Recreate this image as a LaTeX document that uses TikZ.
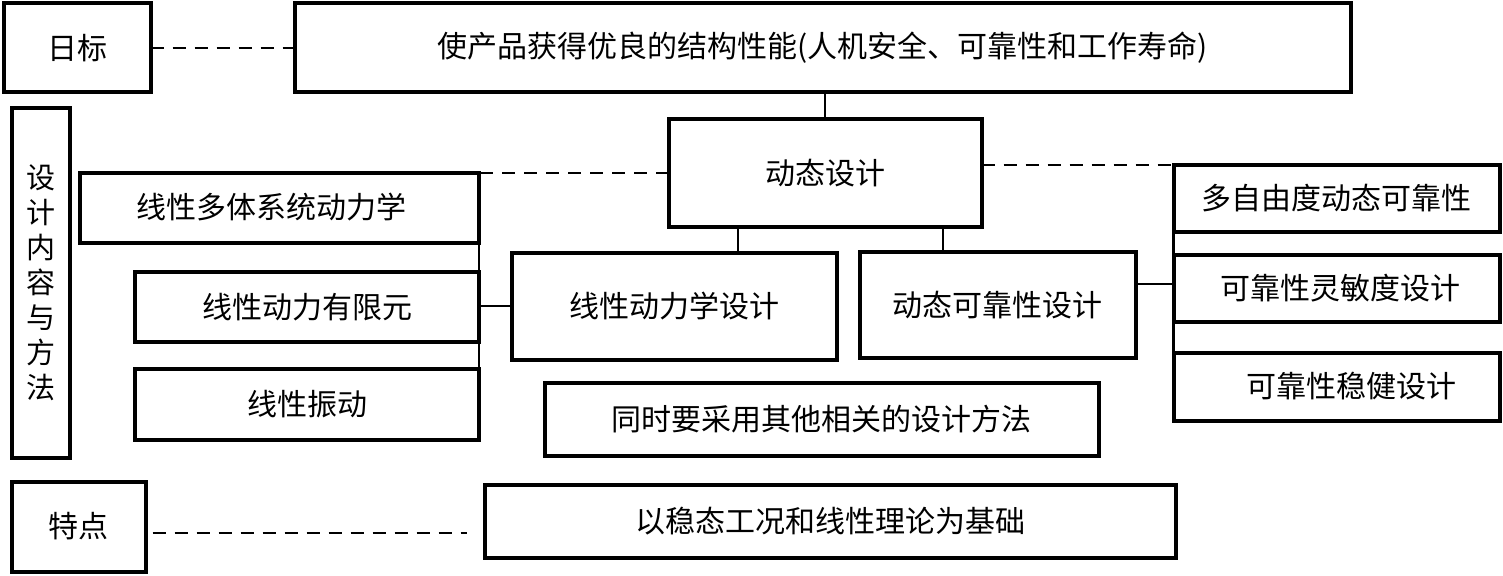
\documentclass[tikz,border=0pt]{standalone}
\usepackage{fontspec}
\newfontfamily\cjk{Noto Sans CJK SC}
\usetikzlibrary{calc}
\begin{document}
\begin{tikzpicture}[x=1pt,y=-1pt,
  bx/.style={draw, line width=4pt, inner sep=0pt, outer sep=0pt, rectangle,
    font=\cjk\fontsize{30}{36}\selectfont},
  conn/.style={line width=2.2pt},
  dconn/.style={line width=2pt, dash pattern=on 13pt off 9pt}]
\useasboundingbox (0,0) rectangle (1503,575);
% top row
\node[bx, minimum width=147pt, minimum height=89pt] (mubiao) at (77,48) {日标};
\node[bx, minimum width=1056pt, minimum height=89pt] (goal) at (822.5,48) {使产品获得优良的结构性能(人机安全、可靠性和工作寿命)};
% left column
\node[bx, minimum width=58pt, minimum height=349pt, align=center,
  font=\cjk\fontsize{29}{35}\selectfont] (neirong) at (40.5,283) {设\\计\\内\\容\\与\\方\\法};
\node[bx, minimum width=134pt, minimum height=90pt] (tedian) at (78.5,526.5) {特点};
% center
\node[bx, minimum width=313pt, minimum height=107pt] (dongtai) at (825,173) {动态设计};
\node[bx, minimum width=399pt, minimum height=70pt] (duoti) at (279.5,207.5) {\hspace*{-16pt}线性多体系统动力学};
\node[bx, minimum width=344pt, minimum height=70pt] (youxian) at (307,307) {线性动力有限元};
\node[bx, minimum width=344pt, minimum height=71pt] (zhendong) at (307,404.5) {线性振动};
\node[bx, minimum width=325pt, minimum height=107pt] (xianxing) at (674,306) {线性动力学设计};
\node[bx, minimum width=276pt, minimum height=106pt] (kekao) at (997.5,305) {动态可靠性设计};
\node[bx, minimum width=554pt, minimum height=73pt] (tongshi) at (821.5,419) {同时要采用其他相关的设计方法};
\node[bx, minimum width=691pt, minimum height=73pt] (jichu) at (830,521) {以稳态工况和线性理论为基础};
% right column
\node[bx, minimum width=326pt, minimum height=67pt] (rb1) at (1336.5,198) {多自由度动态可靠性};
\node[bx, minimum width=326pt, minimum height=67pt] (rb2) at (1336.5,288) {\hspace*{8pt}可靠性灵敏度设计};
\node[bx, minimum width=326pt, minimum height=68pt] (rb3) at (1336.5,386.5) {\hspace*{30pt}可靠性稳健设计};
% coordinates for connector positions
\coordinate (c1) at (738,0);
\coordinate (c2) at (943,0);
\coordinate (c3) at (0,284);
% connectors
\draw[dconn] (mubiao.east) -- (goal.west);
\draw[conn] (dongtai.north) -- (dongtai.north |- goal.south);
\draw[dconn] (dongtai.west |- duoti.north east) -- (duoti.north east);
\draw[conn] (duoti.north east) -- (zhendong.south east);
\draw[conn] (xianxing.west) -- (xianxing.west -| youxian.east);
\draw[conn] (c1 |- dongtai.south) -- (c1 |- xianxing.north);
\draw[conn] (c2 |- dongtai.south) -- (c2 |- kekao.north);
\draw[dconn] (dongtai.east |- rb1.north west) -- (rb1.north west);
\draw[conn] (rb1.north west) -- (rb3.south west);
\draw[conn] (kekao.east |- c3) -- (rb1.west |- c3);
\draw[dconn, shorten <=7pt, shorten >=18pt] (tedian.east |- 0,533) -- (jichu.west |- 0,533);
\end{tikzpicture}
\end{document}
